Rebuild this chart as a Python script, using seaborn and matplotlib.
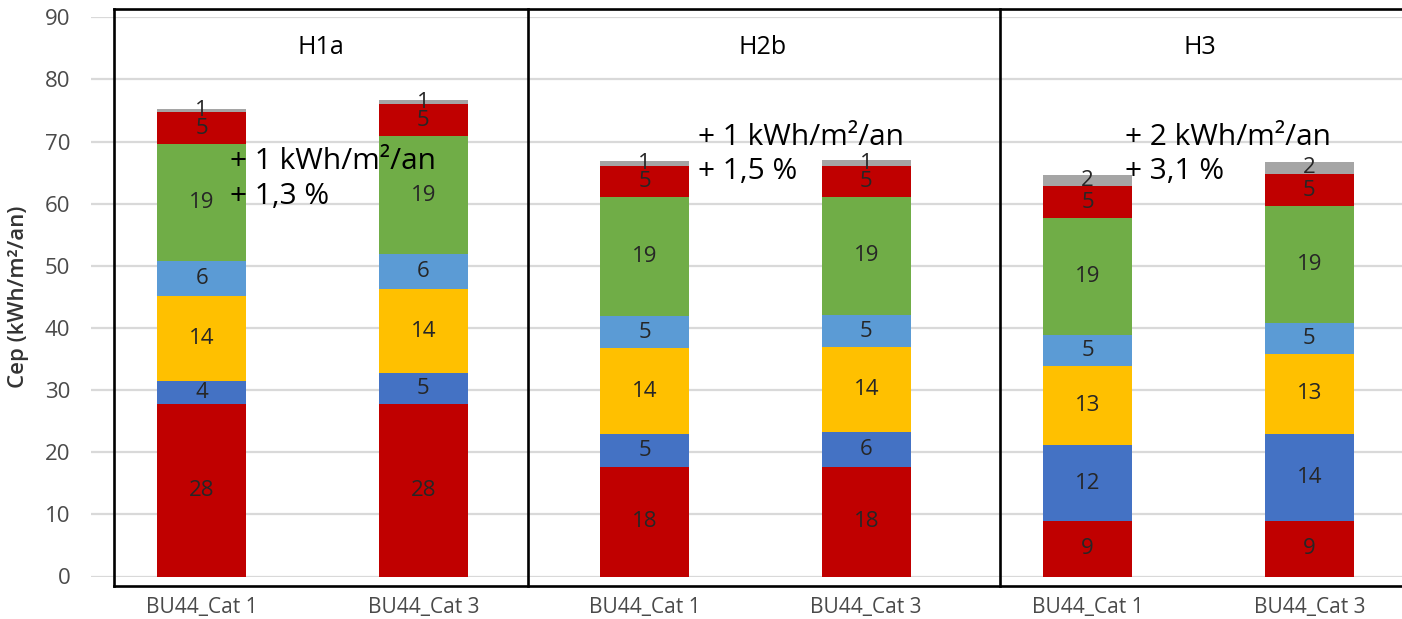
import matplotlib
matplotlib.use("Agg")
import matplotlib.pyplot as plt
import seaborn as sns
import numpy as np
import pandas as pd

# Bars, left to right: two variants per climate zone
bar_labels = ["BU44_Cat 1", "BU44_Cat 3", "BU44_Cat 1", "BU44_Cat 3", "BU44_Cat 1", "BU44_Cat 3"]
zones = ["H1a", "H2b", "H3"]

# Cep contributions (kWh/m²/an), stacked bottom to top
poste_1 = [27.7, 27.7, 17.6, 17.6, 8.9, 8.9]
poste_2 = [3.8, 5.0, 5.4, 5.6, 12.2, 14.1]
poste_3 = [13.6, 13.6, 13.7, 13.7, 12.8, 12.8]
poste_4 = [5.6, 5.6, 5.2, 5.2, 5.0, 5.0]
poste_5 = [18.9, 19.0, 19.1, 19.0, 18.8, 18.8]
poste_6 = [5.1, 5.1, 5.0, 5.0, 5.1, 5.2]
poste_7 = [0.6, 0.7, 0.9, 0.9, 1.8, 1.9]

# Differences between the two variants of each zone
deltas_kwh = ["+ 1 kWh/m²/an", "+ 1 kWh/m²/an", "+ 2 kWh/m²/an"]
deltas_pct = ["+ 1,3 %", "+ 1,5 %", "+ 3,1 %"]

layers = [poste_1, poste_2, poste_3, poste_4, poste_5, poste_6, poste_7]
colors = ["#C00000", "#4472C4", "#FFC000", "#5B9BD5", "#70AD47", "#C00000", "#A5A5A5"]

sns.set_theme(style="white")
plt.rcParams["font.family"] = ["Open Sans", "DejaVu Sans"]

df = pd.DataFrame({"bar": np.arange(len(bar_labels))})
for k, vals in enumerate(layers):
    df[f"v{k}"] = vals
cum = np.cumsum(np.array(layers), axis=0)
for k in range(len(layers)):
    df[f"c{k}"] = cum[k]

fig = plt.figure(figsize=(14.02, 6.19), dpi=100)
ax = fig.add_axes([91 / 1402, (619 - 576.5) / 619, 1329 / 1402, 559.2 / 619])

# Stack by overlaying cumulative totals, tallest first
for k in reversed(range(len(layers))):
    sns.barplot(data=df, x="bar", y=f"c{k}", order=list(range(6)), color=colors[k],
                saturation=1, width=0.4, errorbar=None, linewidth=0, ax=ax, zorder=2)

# Segment value labels
for k in range(len(layers)):
    bottoms = cum[k] - np.array(layers[k])
    for i, v in enumerate(layers[k]):
        ax.text(i, bottoms[i] + v / 2, f"{v:.0f}", ha="center", va="center",
                fontsize=16, color="#262626", zorder=5)

ax.set_xlim(-0.5, 5.5)
ax.set_ylim(0, 90)
ax.set_yticks(range(0, 91, 10))
ax.set_xticks(range(6))
ax.set_xticklabels(bar_labels)
ax.tick_params(axis="both", length=0, labelcolor="#4a4a4a")
ax.tick_params(axis="y", pad=15, labelsize=16)
ax.tick_params(axis="x", pad=15, labelsize=15)
ax.set_xlabel("")
ax.set_ylabel("Cep (kWh/m²/an)", fontsize=16, color="#333333", fontweight="semibold")
ax.yaxis.set_label_coords(-0.047, 0.5)
ax.grid(axis="y", color="#D9D9D9", linewidth=1.6, zorder=0)
ax.set_axisbelow(True)
for s in ax.spines.values():
    s.set_visible(False)

# Zone frames
box_top, box_bot = 91.3, -1.45
edges = [-0.395, 1.472, 3.603, 5.6]
frame_kw = dict(color="black", linewidth=1.9, clip_on=False, zorder=6, solid_capstyle="projecting")
ax.plot([edges[0], edges[-1]], [box_top, box_top], **frame_kw)
ax.plot([edges[0], edges[-1]], [box_bot, box_bot], **frame_kw)
for e in edges[:-1]:
    ax.plot([e, e], [box_bot, box_top], **frame_kw)

# Zone titles
for xz, name in zip([0.54, 2.533, 4.506], zones):
    ax.text(xz, 85.2, name, ha="center", va="center", fontsize=18, color="black")

# Difference annotations
for xa, y1, y2, t1, t2 in zip([0.126, 2.239, 4.167], [66.8, 70.6, 70.6], [61.2, 65.2, 65.2],
                             deltas_kwh, deltas_pct):
    ax.text(xa, y1, t1, ha="left", va="center", fontsize=21.5, color="black", zorder=7)
    ax.text(xa, y2, t2, ha="left", va="center", fontsize=21.5, color="black", zorder=7)

fig.savefig("out.png", dpi=100)
